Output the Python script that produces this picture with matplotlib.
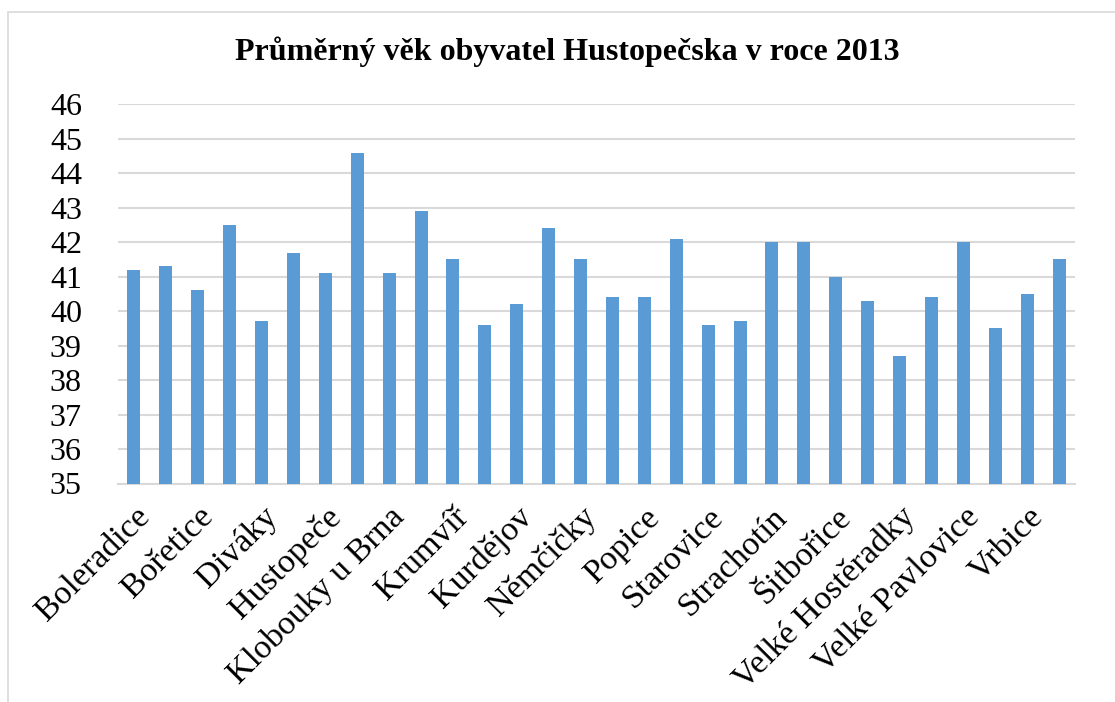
import matplotlib
matplotlib.use("Agg")
import matplotlib.pyplot as plt
from matplotlib.patches import Rectangle
import numpy as np

plt.rcParams['font.family'] = ['Liberation Serif', 'DejaVu Serif']

obce = ["Boleradice", "Borkovany", "Bořetice", "Brumovice", "Diváky",
        "Horní Bojanovice", "Hustopeče", "Kašnice", "Klobouky u Brna", "Kobylí",
        "Krumvíř", "Křepice", "Kurdějov", "Morkůvky", "Němčičky",
        "Nikolčice", "Popice", "Pouzdřany", "Starovice", "Starovičky",
        "Strachotín", "Šakvice", "Šitbořice", "Uherčice", "Velké Hostěradky",
        "Velké Němčice", "Velké Pavlovice", "Vranovice", "Vrbice", "Zaječí"]
vek = [41.2, 41.3, 40.6, 42.5, 39.7, 41.7, 41.1, 44.6, 41.1, 42.9,
       41.5, 39.6, 40.2, 42.4, 41.5, 40.4, 40.4, 42.1, 39.6, 39.7,
       42.0, 42.0, 41.0, 40.3, 38.7, 40.4, 42.0, 39.5, 40.5, 41.5]
y_ticks = list(range(35, 47))

fig = plt.figure(figsize=(11.15, 7.02), dpi=100)
fig.patches.append(Rectangle((8 / 1115, -0.1), 1.2, 1.1 - 12 / 702, transform=fig.transFigure,
                             fill=False, edgecolor='#d9d9d9', linewidth=1.2))

ax = fig.add_axes([118 / 1115, 1 - 483.5 / 702, (1075 - 118) / 1115, (483.5 - 104.3) / 702])
x = np.arange(len(obce))
ax.bar(x, [v - 35 for v in vek], bottom=35, width=0.41, color='#5b9bd5', zorder=3)

ax.set_ylim(35, 46)
ax.set_xlim(-0.5, len(obce) - 0.5)
ax.set_yticks(y_ticks)
ax.set_yticklabels([str(t) for t in y_ticks], fontsize=23)
ax.yaxis.grid(True, color='#d9d9d9', linewidth=1.5, zorder=0)
ax.set_xticks(x[::2])
ax.set_xticklabels(obce[::2], rotation=45, ha='right', va='top', rotation_mode='anchor', fontsize=24.5)
ax.tick_params(axis='both', length=0)
ax.tick_params(axis='y', pad=26)
ax.tick_params(axis='x', pad=13)
for s in ['top', 'right', 'left']:
    ax.spines[s].set_visible(False)
ax.spines['bottom'].set_color('#d9d9d9')
ax.spines['bottom'].set_linewidth(1.5)

fig.text(0.509, 0.927, "Průměrný věk obyvatel Hustopečska v roce 2013",
         ha='center', va='center', fontsize=23, fontweight='bold')

fig.savefig("out.png", dpi=100)
